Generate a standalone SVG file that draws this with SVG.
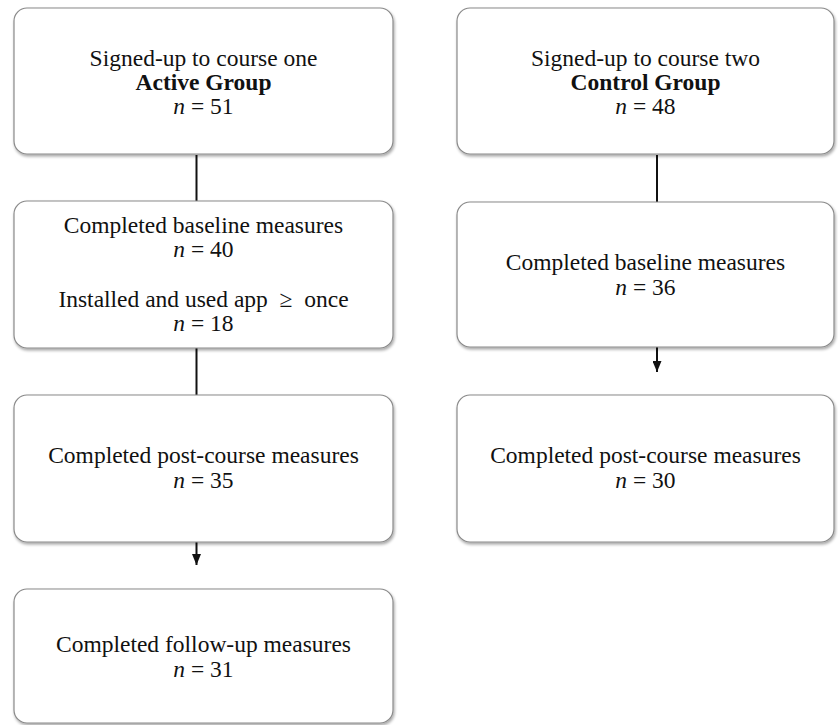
<svg xmlns="http://www.w3.org/2000/svg" width="838" height="725" viewBox="0 0 838 725">
<style>
.box{fill:#fff;stroke:#8a8a8a;stroke-width:1.2}
.t{font-family:'Liberation Serif','Times New Roman',serif;font-size:23.5px;fill:#111;text-anchor:middle}
.b{font-weight:bold}
.i{font-style:italic}
.c{stroke:#111;stroke-width:2;fill:none}
</style>
<defs>
<filter id="sh" x="-5%" y="-5%" width="115%" height="115%">
<feGaussianBlur in="SourceAlpha" stdDeviation="1.5"/>
<feOffset dx="1" dy="2" result="o"/>
<feComponentTransfer><feFuncA type="linear" slope="0.35"/></feComponentTransfer>
<feMerge><feMergeNode/><feMergeNode in="SourceGraphic"/></feMerge>
</filter>
<marker id="ah" viewBox="0 0 10 10" refX="10" refY="5" markerWidth="5.5" markerHeight="4.5" markerUnits="strokeWidth" orient="auto" preserveAspectRatio="none">
<path d="M0,0 L10,5 L0,10 z" fill="#111"/>
</marker>
</defs>
<rect width="838" height="725" fill="#fff"/>
<g id="connectors">
<line class="c" x1="196.5" y1="155" x2="196.5" y2="201"/>
<line class="c" x1="196.5" y1="348" x2="196.5" y2="395"/>
<line class="c" x1="196.5" y1="542" x2="196.5" y2="565" marker-end="url(#ah)"/>
<line class="c" x1="657" y1="155" x2="657" y2="202"/>
<line class="c" x1="657" y1="347" x2="657" y2="372" marker-end="url(#ah)"/>
</g>
<g id="a1">
<rect class="box" x="14" y="8" width="379" height="146" rx="13" filter="url(#sh)"/>
<text class="t" x="203.5" y="65.5">Signed-up to course one</text>
<text class="t b" x="203.5" y="89.5">Active Group</text>
<text class="t" x="203.5" y="113.5"><tspan class="i">n</tspan> = 51</text>
</g>
<g id="a2">
<rect class="box" x="14" y="201" width="379" height="147" rx="13" filter="url(#sh)"/>
<text class="t" x="203.5" y="233">Completed baseline measures</text>
<text class="t" x="203.5" y="257"><tspan class="i">n</tspan> = 40</text>
<text class="t" x="203.5" y="307" xml:space="preserve">Installed and used app  ≥  once</text>
<text class="t" x="203.5" y="331"><tspan class="i">n</tspan> = 18</text>
</g>
<g id="a3">
<rect class="box" x="14" y="395" width="379" height="147" rx="13" filter="url(#sh)"/>
<text class="t" x="203.5" y="463">Completed post-course measures</text>
<text class="t" x="203.5" y="488"><tspan class="i">n</tspan> = 35</text>
</g>
<g id="a4">
<rect class="box" x="14" y="589" width="379" height="134" rx="13" filter="url(#sh)"/>
<text class="t" x="203.5" y="652">Completed follow-up measures</text>
<text class="t" x="203.5" y="677"><tspan class="i">n</tspan> = 31</text>
</g>
<g id="c1">
<rect class="box" x="457" y="8" width="377" height="146" rx="13" filter="url(#sh)"/>
<text class="t" x="645.5" y="65.5">Signed-up to course two</text>
<text class="t b" x="645.5" y="89.5">Control Group</text>
<text class="t" x="645.5" y="113.5"><tspan class="i">n</tspan> = 48</text>
</g>
<g id="c2">
<rect class="box" x="457" y="202" width="377" height="145" rx="13" filter="url(#sh)"/>
<text class="t" x="645.5" y="270">Completed baseline measures</text>
<text class="t" x="645.5" y="294.5"><tspan class="i">n</tspan> = 36</text>
</g>
<g id="c3">
<rect class="box" x="457" y="395" width="377" height="147" rx="13" filter="url(#sh)"/>
<text class="t" x="645.5" y="463">Completed post-course measures</text>
<text class="t" x="645.5" y="488"><tspan class="i">n</tspan> = 30</text>
</g>
</svg>
